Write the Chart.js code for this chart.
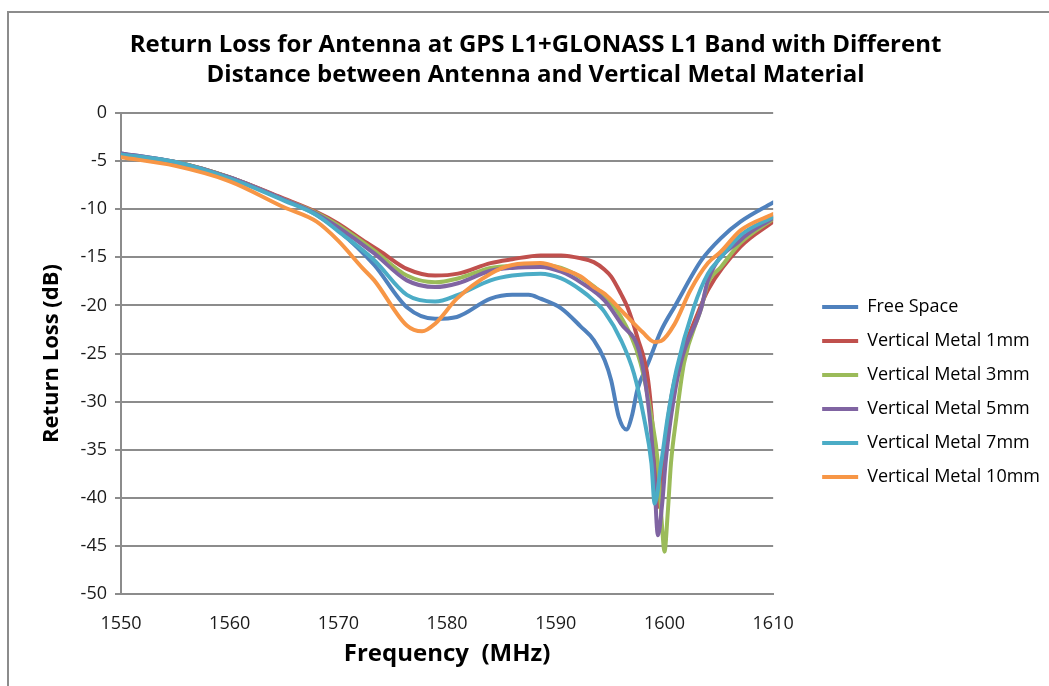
<!DOCTYPE html>
<html>
<head>
<meta charset="utf-8">
<script src="https://cdn.jsdelivr.net/npm/chart.js@4/dist/chart.umd.min.js"></script>
<style>
  body { margin: 0; background: #fff; }
  #wrap { position: relative; width: 1049px; height: 686px; overflow: hidden; }
  #frame { position: absolute; left: 7px; top: 11px; width: 1100px; height: 700px;
           border-top: 2px solid #8c8c8c; border-left: 2px solid #8c8c8c; }
  canvas { position: absolute; left: 0; top: 0; }
</style>
</head>
<body>
<div id="wrap">
  <div id="frame"></div>
  <canvas id="chart" width="1049" height="686"></canvas>
</div>
<script>
// frequency (MHz) and return loss (dB), per curve
const freeFreq = [1550, 1555, 1560, 1565, 1568, 1570, 1573.3, 1576.3, 1578.9, 1580.9, 1584, 1586, 1587.5, 1588.6, 1590.5, 1592.3, 1593.5, 1594.5, 1595.1, 1595.8, 1596.5, 1597, 1597.5, 1598.5, 1599.7, 1601, 1603.4, 1605.2, 1607, 1610];
const freeLoss = [-4.2, -5.1, -6.7, -9.0, -10.6, -12.2, -15.8, -20.2, -21.4, -21.2, -19.3, -18.9, -18.9, -19.3, -20.3, -22.2, -23.6, -25.7, -27.8, -31.6, -32.9, -31.5, -28.8, -26.0, -22.6, -20.0, -15.3, -13.0, -11.3, -9.3];

const metal1Freq = [1550, 1555, 1560, 1565, 1568, 1570, 1572.2, 1574, 1576.3, 1578.9, 1581, 1584, 1586, 1588.6, 1590.5, 1592.3, 1593.5, 1594.5, 1595.1, 1596, 1596.6, 1597.5, 1598.5, 1599, 1599.35, 1599.8, 1600.3, 1600.8, 1601.5, 1603, 1604, 1607, 1610];
const metal1Loss = [-4.3, -5.1, -6.7, -8.9, -10.3, -11.5, -13.2, -14.5, -16.2, -16.9, -16.7, -15.6, -15.2, -14.8, -14.8, -15.1, -15.5, -16.3, -17.0, -18.8, -20.2, -23.3, -27.8, -34.0, -41.0, -37.0, -32.0, -28.5, -25.5, -21.0, -18.4, -13.9, -11.3];

const metal3Freq = [1550, 1555, 1560, 1565, 1568, 1570, 1573.3, 1576.3, 1578.9, 1581, 1584, 1586, 1588.6, 1590.5, 1592.3, 1594.5, 1596, 1597.8, 1598.8, 1599.4, 1599.8, 1600, 1600.3, 1600.6, 1601.1, 1601.8, 1603.4, 1604, 1605.2, 1607, 1610];
const metal3Loss = [-4.3, -5.1, -6.7, -9.0, -10.4, -11.7, -14.3, -16.9, -17.6, -17.2, -16.1, -15.9, -15.8, -16.1, -17.1, -19.0, -21.2, -26.0, -31.6, -36.4, -43.3, -45.6, -41.6, -36.4, -31.6, -26.0, -20.2, -17.7, -16.0, -13.5, -11.0];

const metal5Freq = [1550, 1555, 1560, 1565, 1568, 1570, 1573.3, 1576.3, 1578.9, 1581, 1584, 1586, 1588.6, 1590.5, 1592.3, 1594.5, 1596, 1597.8, 1598.6, 1599, 1599.4, 1599.8, 1600.1, 1600.6, 1601.5, 1603.4, 1604, 1607, 1610];
const metal5Loss = [-4.2, -5.1, -6.7, -9.0, -10.5, -11.9, -14.6, -17.4, -18.1, -17.7, -16.4, -16.1, -16.0, -16.5, -17.6, -19.5, -21.9, -25.3, -31.2, -36.4, -43.9, -40.5, -36.4, -31.6, -26.0, -20.2, -17.4, -13.2, -10.9];

const metal7Freq = [1550, 1555, 1560, 1565, 1568, 1570, 1573.3, 1576.3, 1578.9, 1581, 1584, 1586, 1588.6, 1590.5, 1592.3, 1593.5, 1594.5, 1596, 1597.2, 1598.1, 1598.8, 1599.1, 1599.7, 1600.3, 1601.1, 1602.7, 1604, 1605.2, 1607, 1610];
const metal7Loss = [-4.3, -5.1, -6.8, -9.1, -10.6, -12.3, -15.3, -18.9, -19.6, -18.9, -17.4, -16.9, -16.7, -17.2, -18.4, -19.5, -20.7, -23.6, -27.1, -31.6, -36.4, -40.6, -36.4, -31.6, -26.7, -20.2, -16.7, -15.0, -12.7, -10.8];

const metal10Freq = [1550, 1555, 1560, 1565, 1568, 1570, 1572.2, 1573.3, 1576.3, 1577.7, 1578.9, 1580.9, 1584, 1586, 1588.6, 1590.5, 1592.3, 1593.5, 1594.5, 1596, 1596.6, 1598, 1599.1, 1599.7, 1600.9, 1602.4, 1604, 1605.2, 1607, 1610];
const metal10Loss = [-4.6, -5.5, -7.1, -9.8, -11.3, -13.3, -16.1, -17.4, -22.1, -22.7, -21.9, -19.3, -16.7, -15.8, -15.6, -16.2, -17.0, -18.1, -18.8, -20.5, -21.2, -22.8, -23.8, -23.7, -22.0, -18.4, -15.6, -14.4, -12.2, -10.5];

const seriesNames = ['Free Space', 'Vertical Metal 1mm', 'Vertical Metal 3mm', 'Vertical Metal 5mm', 'Vertical Metal 7mm', 'Vertical Metal 10mm'];
const seriesColors = ['#4f81bd', '#c0504d', '#9bbb59', '#8064a2', '#4bacc6', '#f79646'];
const xTicks = [1550, 1560, 1570, 1580, 1590, 1600, 1610];
const yTicks = [0, -5, -10, -15, -20, -25, -30, -35, -40, -45, -50];

const freqs = [freeFreq, metal1Freq, metal3Freq, metal5Freq, metal7Freq, metal10Freq];
const losses = [freeLoss, metal1Loss, metal3Loss, metal5Loss, metal7Loss, metal10Loss];

function toPoints(fs, ls) {
    return fs.map(function(f, i) { return { x: f, y: ls[i] }; });
}

const datasets = seriesNames.map(function(name, i) {
    return {
        label: name,
        data: toPoints(freqs[i], losses[i]),
        borderColor: seriesColors[i],
        backgroundColor: seriesColors[i],
        borderWidth: 4,
        pointRadius: 0,
        cubicInterpolationMode: 'monotone',
        borderCapStyle: 'round',
        borderJoinStyle: 'round',
        order: seriesNames.length - i   // later series on top, like Excel
    };
});

// Excel puts the legend further right/lower than Chart.js does; nudge it and the title
const nudge = {
    id: 'nudge',
    afterLayout(chart) {
        chart.legend.left += 33;
        chart.legend.right += 33;
        chart.legend.top += 57;
        chart.legend.bottom += 57;
        chart.titleBlock.left += 17;
        chart.titleBlock.right += 17;
    }
};

Chart.defaults.font.family = "'Open Sans', 'Noto Sans', sans-serif";
Chart.defaults.color = '#1a1a1a';

new Chart(document.getElementById('chart'), {
    type: 'line',
    data: { datasets: datasets },
    plugins: [nudge],
    options: {
        responsive: false,
        animation: false,
        layout: { padding: { left: 20, right: 32, top: 0, bottom: 16 } },
        plugins: {
            title: {
                display: true,
                text: ['Return Loss for Antenna at GPS L1+GLONASS L1 Band with Different',
                       'Distance between Antenna and Vertical Metal Material'],
                font: { size: 24, weight: 'bold', lineHeight: 1.25 },
                color: '#000',
                padding: { top: 30, bottom: 23 }
            },
            legend: {
                position: 'right',
                labels: {
                    font: { size: 18 },
                    color: '#000',
                    boxWidth: 36,
                    boxHeight: 4,
                    padding: 16,
                    sort: function(a, b) { return a.datasetIndex - b.datasetIndex; },
                    generateLabels: function(chart) {
                        return Chart.defaults.plugins.legend.labels.generateLabels(chart).map(function(l) {
                            l.lineWidth = 0;
                            return l;
                        });
                    }
                }
            },
            tooltip: { enabled: false }
        },
        scales: {
            x: {
                type: 'linear',
                min: 1550,
                max: 1610,
                afterBuildTicks: function(axis) { axis.ticks = xTicks.map(function(v) { return { value: v }; }); },
                afterFit: function(axis) { axis.height = 76; },
                grid: { display: false },
                border: { color: '#8c8c8c', width: 2 },
                ticks: { font: { size: 18 }, color: '#1a1a1a', padding: 11, maxRotation: 0,
                         callback: function(v) { return String(v); } },
                title: {
                    display: true,
                    text: 'Frequency  (MHz)',
                    font: { size: 24, weight: 'bold' },
                    color: '#000',
                    padding: { top: 0, bottom: 1 }
                }
            },
            y: {
                min: -50,
                max: 0,
                afterBuildTicks: function(axis) { axis.ticks = yTicks.map(function(v) { return { value: v }; }); },
                afterFit: function(axis) { axis.width = 101; },
                grid: { color: '#8c8c8c', lineWidth: 2, tickLength: 6 },
                border: { color: '#8c8c8c', width: 2 },
                ticks: { font: { size: 18 }, color: '#1a1a1a', padding: 8 },
                title: {
                    display: true,
                    text: 'Return Loss (dB)',
                    font: { size: 22, weight: 'bold' },
                    color: '#000',
                    padding: { top: 19, bottom: 0 }
                }
            }
        }
    }
});
</script>
</body>
</html>
